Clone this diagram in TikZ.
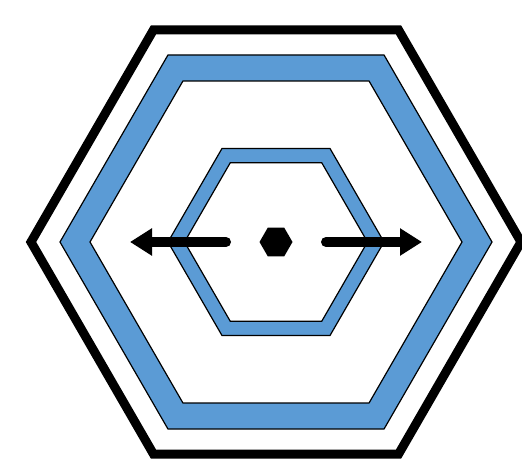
\documentclass[tikz,border=0pt]{standalone}
\usetikzlibrary{shapes.geometric, arrows.meta}
\definecolor{ringblue}{RGB}{91,155,213}
\newcommand{\hexpath}[1]{(0:#1) -- (60:#1) -- (120:#1) -- (180:#1) -- (240:#1) -- (300:#1) -- cycle}
\tikzset{
  outerframe/.style={draw=black, line width=9pt},
  band/.style={fill=ringblue, even odd rule},
  bandline/.style={draw=black, line width=1.2pt},
  hub/.style={regular polygon, regular polygon sides=6, minimum size=33pt,
    inner sep=0pt, fill=black},
  push/.style={line width=10pt, line cap=round,
    -{Triangle[length=22pt,width=26pt]}}
}
\begin{document}
\begin{tikzpicture}
\useasboundingbox (0,0) rectangle (522pt,463pt);
\coordinate (c) at (276pt,221pt);

\begin{scope}[shift={(c)}]
% outer frame
\draw[outerframe] \hexpath{245pt};
% wide band
\fill[band] \hexpath{216pt} \hexpath{186pt};
\draw[bandline] \hexpath{216pt} \hexpath{186pt};
% inner band
\fill[band] \hexpath{108pt} \hexpath{91.5pt};
\draw[bandline] \hexpath{108pt} \hexpath{91.5pt};
\end{scope}

\node[hub] (hub) at (c) {};

\coordinate (ltail) at ([xshift=-50pt]c);
\coordinate (ltip)  at ([xshift=-146pt]c);
\coordinate (rtail) at ([xshift=50pt]c);
\coordinate (rtip)  at ([xshift=146pt]c);

\draw[push] (ltail) -- (ltip);
\draw[push] (rtail) -- (rtip);
\end{tikzpicture}
\end{document}
